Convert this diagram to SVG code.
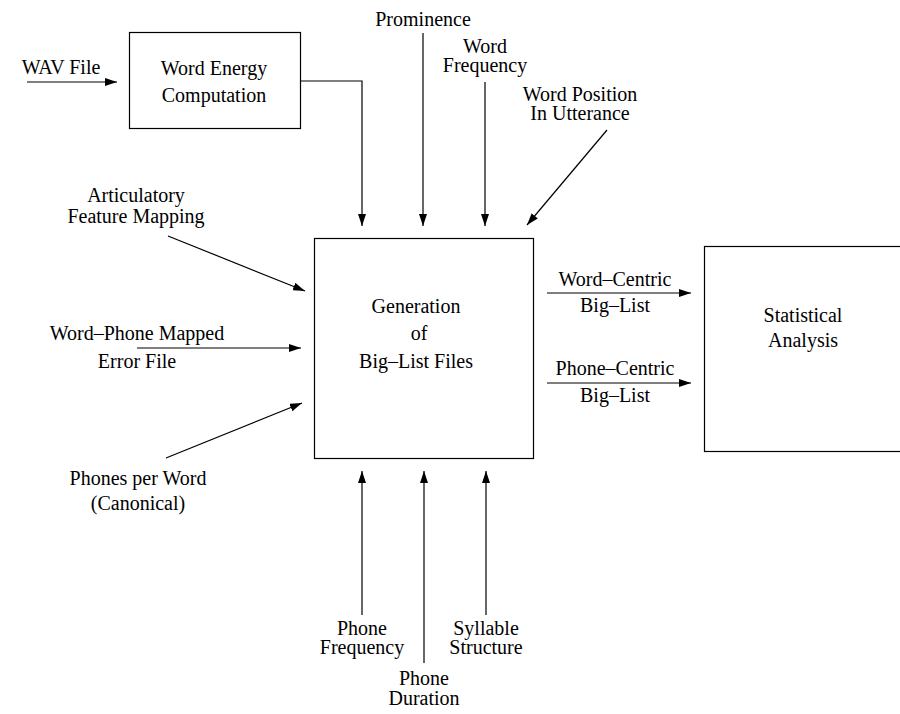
<svg xmlns="http://www.w3.org/2000/svg" width="900" height="714" viewBox="0 0 900 714">
  <defs>
    <marker id="arrow" viewBox="0 0 12 8" refX="12" refY="4" markerWidth="12" markerHeight="8" markerUnits="userSpaceOnUse" orient="auto">
      <path d="M0,0 L12,4 L0,8 Z" fill="#000"/>
    </marker>
  </defs>
  <style>
    text { font-family: "Liberation Serif", "Times New Roman", serif; font-size: 20px; fill: #000; text-anchor: middle; }
    .box { fill: #fff; stroke: #000; stroke-width: 1.2; }
    .edge { fill: none; stroke: #000; stroke-width: 1.2; marker-end: url(#arrow); }
  </style>
  <rect width="900" height="714" fill="#fff"/>

  <!-- nodes -->
  <g id="word-energy">
    <rect class="box" x="129.5" y="32.5" width="171" height="96"/>
    <text x="214" y="75">Word Energy</text>
    <text x="214" y="102">Computation</text>
  </g>
  <g id="big-list">
    <rect class="box" x="314.5" y="238.5" width="219" height="220"/>
    <text x="416" y="313">Generation</text>
    <text x="419" y="340">of</text>
    <text x="416" y="368">Big–List Files</text>
  </g>
  <g id="statistical">
    <rect class="box" x="704.5" y="246.5" width="210" height="205"/>
    <text x="803" y="322">Statistical</text>
    <text x="803" y="347">Analysis</text>
  </g>

  <!-- input / output labels -->
  <g id="wav-file"><text x="61" y="74">WAV File</text></g>
  <g id="prominence"><text x="423" y="26">Prominence</text></g>
  <g id="word-frequency">
    <text x="485" y="53">Word</text>
    <text x="485" y="72">Frequency</text>
  </g>
  <g id="word-position">
    <text x="580" y="101">Word Position</text>
    <text x="580" y="120">In Utterance</text>
  </g>
  <g id="articulatory">
    <text x="136" y="202">Articulatory</text>
    <text x="136" y="223">Feature Mapping</text>
  </g>
  <g id="error-file">
    <text x="137" y="340">Word–Phone Mapped</text>
    <text x="137" y="368">Error File</text>
  </g>
  <g id="phones-per-word">
    <text x="138" y="485">Phones per Word</text>
    <text x="138" y="510">(Canonical)</text>
  </g>
  <g id="phone-frequency">
    <text x="362" y="635">Phone</text>
    <text x="362" y="654">Frequency</text>
  </g>
  <g id="phone-duration">
    <text x="424" y="685">Phone</text>
    <text x="424" y="705">Duration</text>
  </g>
  <g id="syllable-structure">
    <text x="486" y="635">Syllable</text>
    <text x="486" y="654">Structure</text>
  </g>
  <g id="word-centric">
    <text x="615" y="286">Word–Centric</text>
    <text x="615" y="312">Big–List</text>
  </g>
  <g id="phone-centric">
    <text x="615" y="375">Phone–Centric</text>
    <text x="615" y="402">Big–List</text>
  </g>

  <!-- connectors -->
  <g id="connectors">
    <path class="edge" d="M27,82 H117"/>
    <path class="edge" d="M300,81 H362 V226"/>
    <path class="edge" d="M423,33 V226"/>
    <path class="edge" d="M485,82 V226"/>
    <path class="edge" d="M607,130 L527,225"/>
    <path class="edge" d="M168,236 L305,291"/>
    <path class="edge" d="M137,348 H301"/>
    <path class="edge" d="M166,458 L302,403"/>
    <path class="edge" d="M547,293 H691"/>
    <path class="edge" d="M547,383 H691"/>
    <path class="edge" d="M362,615 V471"/>
    <path class="edge" d="M424,663 V471"/>
    <path class="edge" d="M486,615 V471"/>
  </g>
</svg>
